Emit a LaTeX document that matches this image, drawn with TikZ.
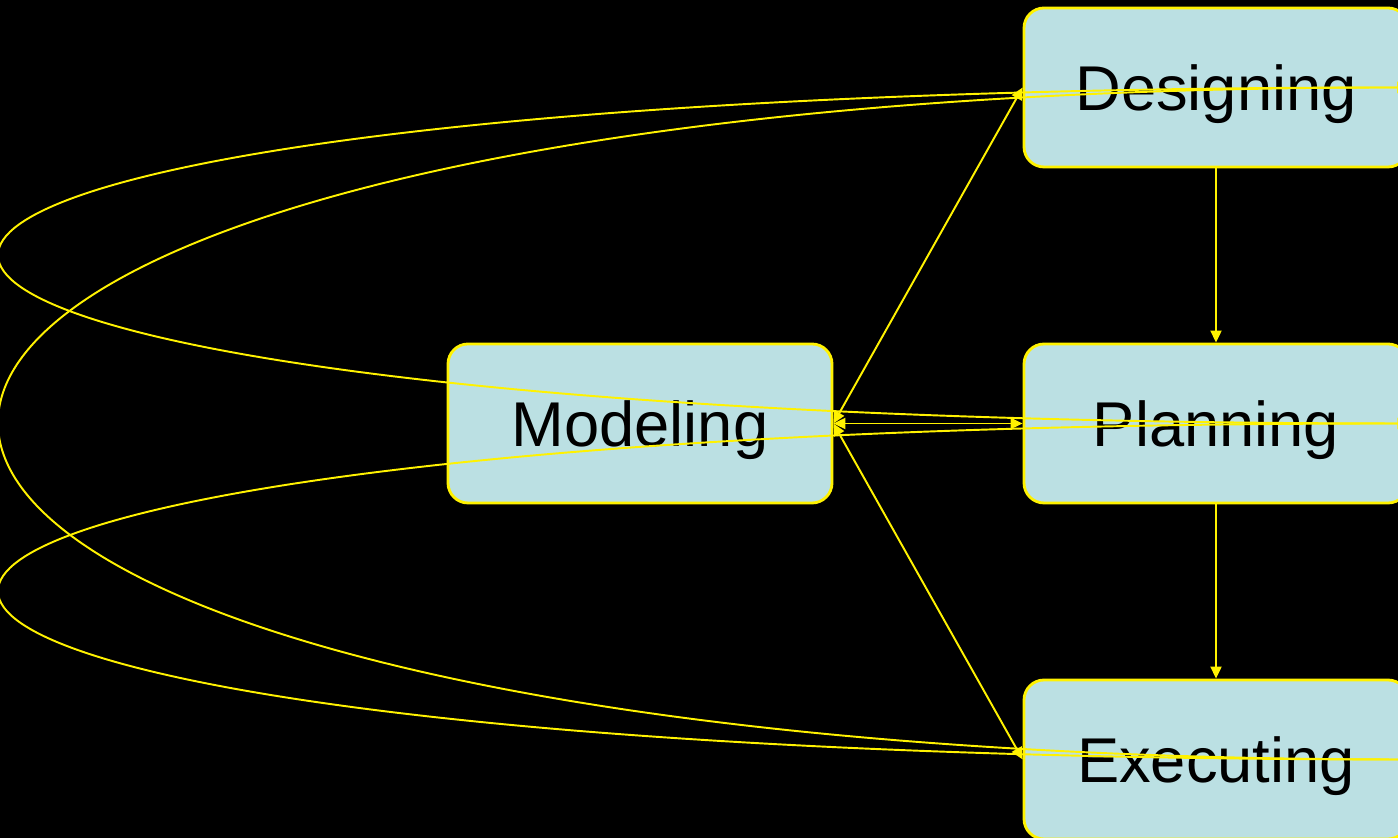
\documentclass[tikz,border=0pt]{standalone}
\usepackage{fontspec}
\setmainfont{Liberation Sans}
\usetikzlibrary{arrows.meta}
\definecolor{boxblue}{RGB}{187,224,227}
\begin{document}
\begin{tikzpicture}[>={Triangle[length=1.2mm,width=1.1mm]},
  every node/.style={font=\fontsize{18}{20}\selectfont},
  phase/.style={rectangle,rounded corners=0.2cm,draw=yellow,fill=boxblue,line width=0.8pt,minimum width=3.84cm,minimum height=1.59cm,text depth=0pt},
  link/.style={draw=yellow,line width=0.55pt}]
  \fill[black] (0,0) rectangle (13.98,8.38);
  \useasboundingbox (0,0) rectangle (13.98,8.38);
  \node[phase] (des) at (12.16,7.505) {Designing};
  \node[phase] (pla) at (12.16,4.145) {Planning};
  \node[phase] (exe) at (12.16,0.785) {Executing};
  \node[phase] (mod) at (6.40,4.145)  {Modeling};
  \foreach \from/\to in {des/pla,pla/exe}
    \draw[link,->] (\from.south) -- (\to.north);
  \foreach \to in {des,pla,exe}
    \draw[link,<->] (mod.east) -- (\to.west);
  \foreach \from/\to in {pla/des,exe/des,exe/pla}
    \draw[link,->] (\from.east) .. controls +(-18.8,0) and +(-18.8,0) .. (\to.east);
\end{tikzpicture}
\end{document}
